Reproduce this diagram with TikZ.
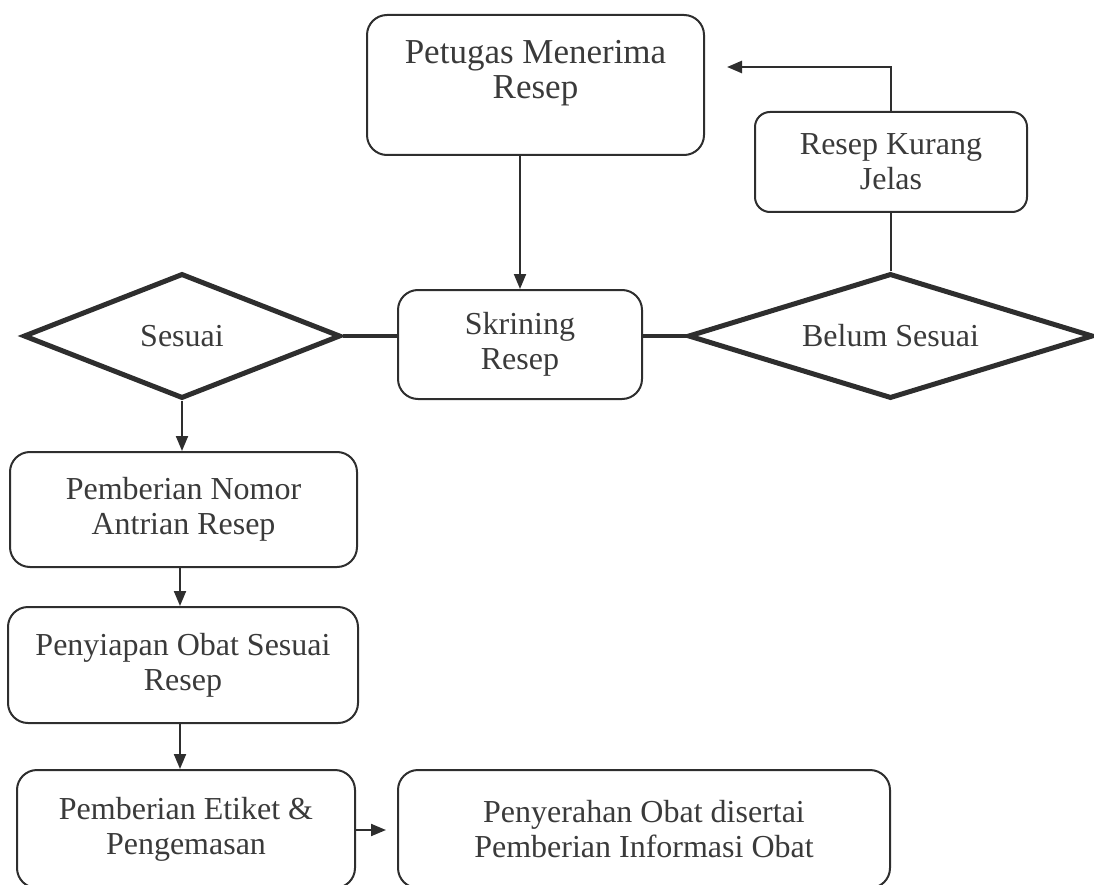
\documentclass[tikz,border=0pt]{standalone}
\usepackage{fontspec}
\setmainfont{Liberation Serif}
\usetikzlibrary{shapes.geometric,arrows.meta}
\definecolor{ink}{HTML}{2E2E2E}
\definecolor{txt}{HTML}{3A3A3A}
\begin{document}
\begin{tikzpicture}[x=1pt,y=-1pt,
  every node/.style={font=\fontsize{32}{35}\selectfont, text=txt, align=center},
  procbox/.style={draw=ink, line width=2pt, rounded corners=20pt, inner sep=0pt},
  decision/.style={draw=ink, line width=5pt, diamond, inner sep=0pt, line join=miter},
  flow/.style={draw=ink, line width=2pt, -{Triangle[length=15pt,width=12pt]}},
  joint/.style={draw=ink, line width=4pt}]
\useasboundingbox (0,0) rectangle (1094,885);

% process boxes
\node[procbox, minimum width=337pt, minimum height=140pt] (petugas) at (535.5,85) {};
\node[font=\fontsize{35}{35}\selectfont] (petugasText) at (535.5,73) {Petugas Menerima\\Resep};
\node[procbox, rounded corners=15pt, minimum width=272pt, minimum height=100pt] (kurang) at (891,162) {Resep Kurang\\Jelas};
\node[procbox, minimum width=244pt, minimum height=109pt] (skrining) at (520,344.5) {Skrining\\Resep};
\node[procbox, minimum width=347pt, minimum height=115pt] (nomor) at (183.5,509.5) {Pemberian Nomor\\Antrian Resep};
\node[procbox, minimum width=350pt, minimum height=116pt] (siap) at (183,665) {Penyiapan Obat Sesuai\\Resep};
\node[procbox, minimum width=338pt, minimum height=118pt] (etiket) at (186,829) {Pemberian Etiket \&\\Pengemasan};
\node[procbox, minimum width=492pt, minimum height=118pt] (serah) at (644,829) {Penyerahan Obat disertai\\Pemberian Informasi Obat};

% decisions
\node[decision, aspect=2.54, minimum width=317pt, minimum height=125pt] (sesuai) at (182,336) {Sesuai};
\node[decision, aspect=3.24, minimum width=405pt, minimum height=125pt] (belum) at (890.5,336) {Belum Sesuai};

% connectors
\coordinate (backTip) at (727,67);
\draw[flow] (skrining.north |- petugas.south) -- (skrining.north);
\draw[joint] (sesuai.east) -- (sesuai.east -| skrining.west);
\draw[joint] (skrining.east |- belum.west) -- (belum.west);
\draw[draw=ink, line width=2pt] (belum.north) -- (belum.north |- kurang.south);
\draw[flow, line width=2.5pt] (kurang.north) |- (backTip);
\draw[flow] (sesuai.south) -- (sesuai.south |- nomor.north);
\draw[flow] (nomor.south -| 180,0) -- (siap.north -| 180,0);
\draw[flow] (siap.south -| 180,0) -- (etiket.north -| 180,0);
\draw[flow, shorten >=11pt] (etiket.east |- 0,830) -- (serah.west |- 0,830);
\end{tikzpicture}
\end{document}
